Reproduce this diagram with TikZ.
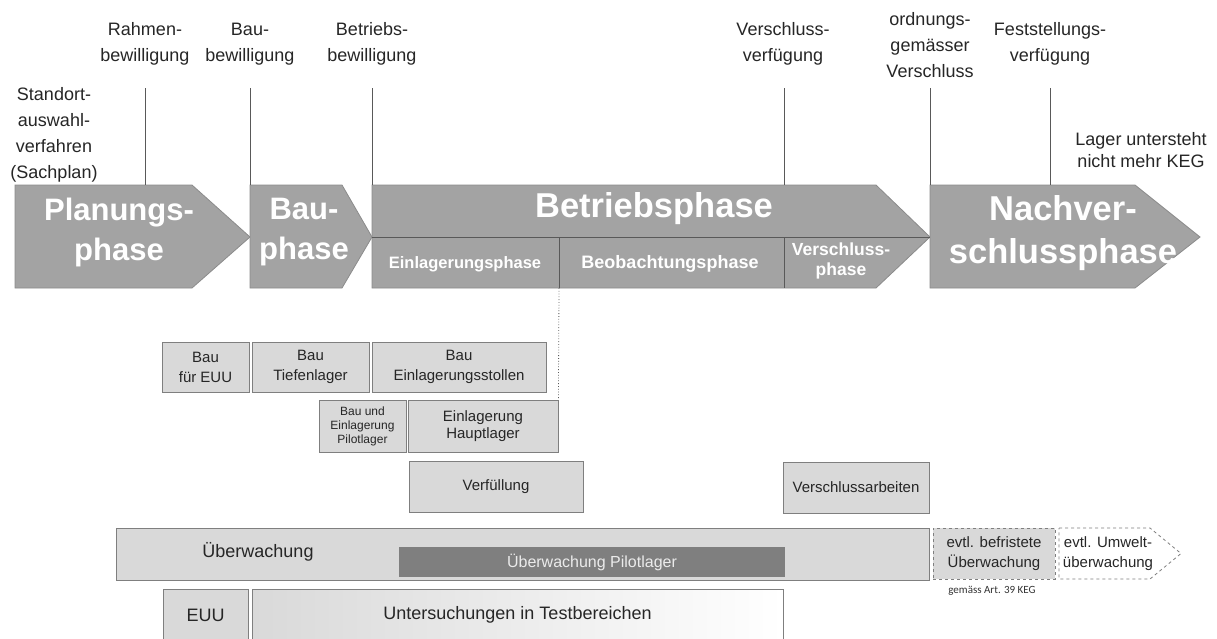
\documentclass[tikz,border=0pt]{standalone}
\usepackage{fontspec}
\setmainfont{Liberation Sans}
\newfontfamily\notefont{Carlito}
\usetikzlibrary{positioning}
\definecolor{phasegray}{HTML}{A3A3A3}
\definecolor{boxgray}{HTML}{D9D9D9}
\definecolor{linegray}{HTML}{595959}
\definecolor{framegray}{HTML}{7F7F7F}
\tikzset{
  phasearrow/.style={fill=phasegray, draw=phasegray!85!black, line width=0.8pt},
  phasetext/.style={text=white, font=\bfseries\fontsize{31}{40}\selectfont, align=center, inner sep=0pt},
  subtext/.style={text=white, font=\bfseries\fontsize{16.5}{19}\selectfont, align=center, inner sep=0pt},
  milelabel/.style={font=\fontsize{18}{26}\selectfont, align=center, text=black!85, inner sep=0pt},
  mile/.style={draw=linegray, line width=0.8pt},
  work/.style={draw=framegray, fill=boxgray, line width=0.8pt, align=center, inner sep=0pt,
    font=\fontsize{15}{20}\selectfont, text=black!85},
}
\begin{document}
\begin{tikzpicture}[x=1pt, y=-1pt]
  \useasboundingbox[fill=white] (0,0) rectangle (1217,638);
  % phase arrows
  \path[phasearrow] (15,185) -- (192,185) -- (250,237) -- (192,288) -- (15,288) -- cycle;
  \path[phasearrow] (250,185) -- (342,185) -- (372,237) -- (342,288) -- (250,288) -- cycle;
  \path[phasearrow] (372,185) -- (876,185) -- (930,237) -- (876,288) -- (372,288) -- cycle;
  \path[phasearrow] (930,185) -- (1135,185) -- (1200,237) -- (1135,288) -- (930,288) -- cycle;
  \coordinate (midL) at (372,237);
  \coordinate (midR) at (930,237);
  \coordinate (einTop) at (559,237);
  \coordinate (einBot) at (559,288);
  \coordinate (verTop) at (784,237);
  \coordinate (verBot) at (784,288);
  \draw[linegray, line width=0.8pt] (midL) -- (midR);
  \draw[linegray, line width=0.8pt] (einTop) -- (einBot);
  \draw[linegray, line width=0.8pt] (verTop) -- (verBot);
  \node[phasetext] (plan) at (119,232) {Planungs-\\phase};
  \node[phasetext] (bau) at (304,232) {Bau-\\phase};
  \node[phasetext, font=\bfseries\fontsize{34.5}{43}\selectfont] (betrieb) at (654,209) {Betriebsphase};
  \node[phasetext, font=\bfseries\fontsize{34.5}{43}\selectfont] (nach) at (1063,233) {Nachver-\\schlussphase};
  \node[subtext] (einlag) at (465,264) {Einlagerungsphase};
  \node[subtext, font=\bfseries\fontsize{18}{19}\selectfont] (beob) at (670,264) {Beobachtungsphase};
  \node[subtext, font=\bfseries\fontsize{17.5}{19.5}\selectfont] (verschl) at (841,261) {Verschluss-\\phase};
  % milestones
  \node[milelabel] (standort) at (54,135) {Standort-\\auswahl-\\verfahren\\(Sachplan)};
  \node[milelabel] (rahmen) at (145,44) {Rahmen-\\bewilligung};
  \node[milelabel] (baubew) at (250,44) {Bau-\\bewilligung};
  \node[milelabel] (betrbew) at (372,44) {Betriebs-\\bewilligung};
  \node[milelabel] (verfueg) at (783,44) {Verschluss-\\verfügung};
  \node[milelabel] (ordnung) at (930,45) {ordnungs-\\gemässer\\Verschluss};
  \node[milelabel] (festst) at (1050,44) {Feststellungs-\\verfügung};
  \node[milelabel, font=\fontsize{18}{22}\selectfont] (lager) at (1141,150) {Lager untersteht\\nicht mehr KEG};
  \foreach \n/\x in {rahmen/145, baubew/250, betrbew/372, verfueg/784, ordnung/930, festst/1050} {
    \coordinate (\n Top) at (\x,88);
    \coordinate (\n Bot) at (\x,185);
    \draw[mile] (\n Top) -- (\n Bot);
  }
  % works
  \node[work, minimum width=87, minimum height=50] (bauEUU) at (205.5,367) {Bau\\für EUU};
  \node[work, minimum width=117, minimum height=50] (bauTief) at (310.5,367) {Bau\\Tiefenlager};
  \node[work, minimum width=174, minimum height=50] (bauStollen) at (459,367) {Bau\\Einlagerungsstollen};
  \node[work, minimum width=87, minimum height=52, font=\fontsize{12}{14}\selectfont] (pilot) at (362.5,426) {Bau und\\Einlagerung\\Pilotlager};
  \node[work, minimum width=150, minimum height=52, font=\fontsize{15}{17}\selectfont] (haupt) at (483,426) {Einlagerung\\Hauptlager};
  \node[work, minimum width=174, minimum height=51] (verfuell) at (496,486.5) {Verfüllung};
  \node[work, minimum width=146, minimum height=51] (verschlArb) at (856,487.5) {Verschlussarbeiten};
  \draw[linegray, dotted, line width=0.8pt] (einBot) -- (haupt.north east);
  % monitoring
  \node[work, minimum width=813, minimum height=52] (ueberw) at (522.5,554) {};
  \node[milelabel, font=\fontsize{18}{22}\selectfont] (ueberwText) at (258,552) {Überwachung};
  \node[work, fill=framegray, draw=none, minimum width=386, minimum height=30,
    text=black!8, font=\fontsize{16}{18}\selectfont] (ueberwPilot) at (592,562) {Überwachung Pilotlager};
  \node[work, dashed, minimum width=122, minimum height=51] (befrist) at (994,553.5) {evtl. befristete\\Überwachung};
  \path[draw=framegray, dashed, line width=0.8pt, fill=white] (1059,528) -- (1150,528) -- (1181,553.5) -- (1150,579) -- (1059,579) -- cycle;
  \node[work, draw=none, fill=none] (umwelt) at (1108,553.5) {evtl. Umwelt-\\überwachung};
  \node[font=\notefont\fontsize{11}{13}\selectfont, text=black!80, inner sep=0pt] (gemaess) at (992,591) {gemäss Art. 39 KEG};
  % investigations
  \node[work, minimum width=85, minimum height=52, font=\fontsize{18}{22}\selectfont] (euu) at (205.5,615) {EUU};
  \node[work, left color=boxgray, right color=white, minimum width=531, minimum height=52,
    font=\fontsize{18}{22}\selectfont] (unters) at (517.5,615) {Untersuchungen in Testbereichen};
\end{tikzpicture}
\end{document}
